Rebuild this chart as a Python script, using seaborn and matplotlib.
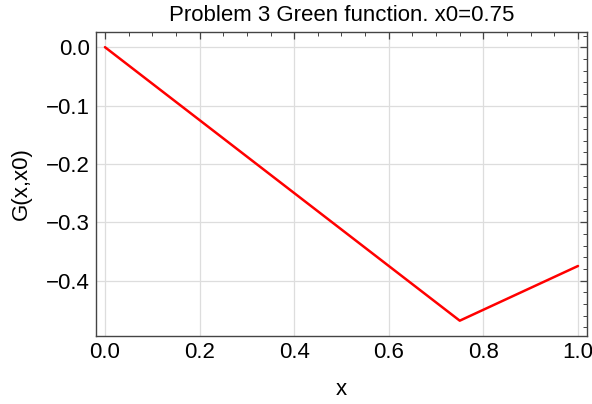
import matplotlib
matplotlib.use("Agg")
import matplotlib.pyplot as plt
from matplotlib.ticker import MultipleLocator
import seaborn as sns
import pandas as pd

x_vals = [0.0, 0.75, 1.0]
g_vals = [0.0, -0.46875, -0.375]
title = "Problem 3 Green function. x0=0.75"

sns.set_style("white")
plt.rcParams['font.family'] = ['Liberation Sans', 'DejaVu Sans']
plt.rcParams['text.color'] = 'black'
plt.rcParams['axes.labelcolor'] = 'black'
plt.rcParams['xtick.color'] = 'black'
plt.rcParams['ytick.color'] = 'black'

df = pd.DataFrame({"x": x_vals, "G": g_vals})

fig = plt.figure(figsize=(5.92, 4.04), dpi=100)
ax = fig.add_axes([95.5/592, 1-336/404, (587-95.5)/592, (336-32)/404])
sns.lineplot(data=df, x="x", y="G", ax=ax, color="red", linewidth=1.8, sort=False)

ax.set_xlim(-0.02, 1.019)
ax.set_ylim(-0.495, 0.026)
ax.xaxis.set_minor_locator(MultipleLocator(0.05))
ax.yaxis.set_minor_locator(MultipleLocator(0.02))
ax.set_xticks([0, 0.2, 0.4, 0.6, 0.8, 1.0])
ax.set_xticklabels(["0.0", "0.2", "0.4", "0.6", "0.8", "1.0"])
ax.set_yticks([0.0, -0.1, -0.2, -0.3, -0.4])
ax.set_yticklabels(["0.0", "\u22120.1", "\u22120.2", "\u22120.3", "\u22120.4"])

ax.grid(True, which="major", color="#dddddd", linewidth=0.9)
ax.set_axisbelow(True)
for s in ax.spines.values():
    s.set_color("#444444")
    s.set_linewidth(1.0)
ax.tick_params(which="both", direction="in", top=True, right=True, color="#444444", labelsize=16, pad=4)
ax.tick_params(which="major", length=5, width=0.9)
ax.tick_params(which="minor", length=3, width=0.7)

ax.set_title(title, fontsize=16, pad=8)
ax.set_xlabel("x", fontsize=16, labelpad=12)
ax.set_ylabel("G(x,x0)", fontsize=16, labelpad=10)

fig.savefig("out.png", dpi=100)
